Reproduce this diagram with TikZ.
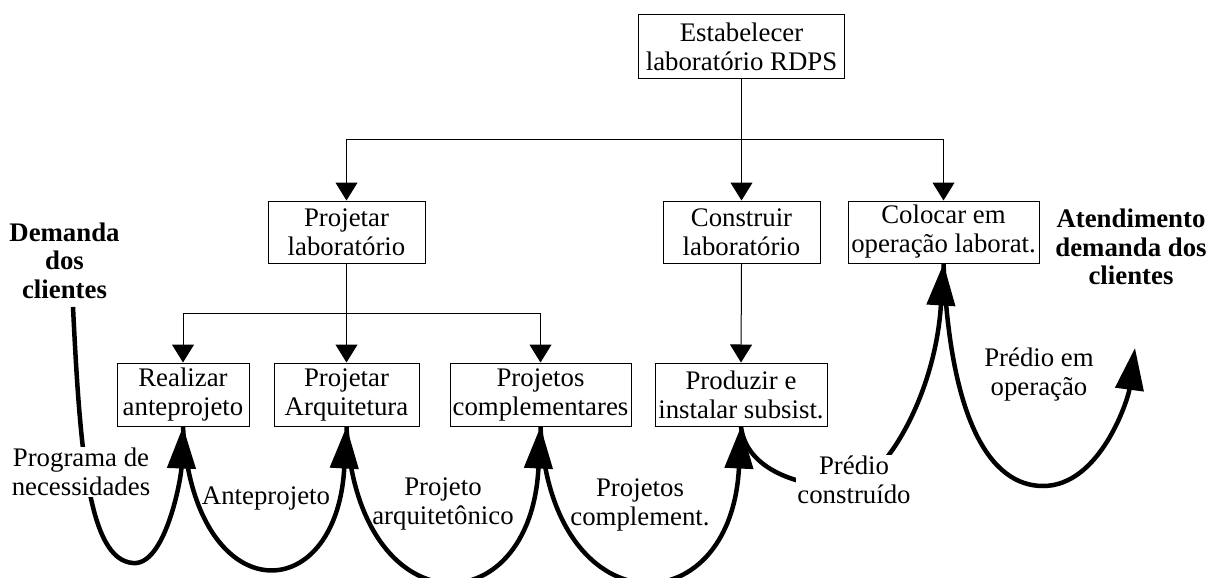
\documentclass[tikz,border=0pt]{standalone}
\usepackage{fontspec}
\setmainfont{Liberation Serif}
\usetikzlibrary{arrows.meta}
\tikzset{
  box/.style={draw, line width=1pt, align=center, inner sep=0pt, font=\fontsize{26.8}{29}\selectfont},
  conn/.style={line width=1pt, -{Triangle[length=18pt,width=22pt]}},
  plainline/.style={line width=1pt},
  flow/.style={line width=4.5pt, line join=round, -{Triangle[length=42pt,width=28pt]}},
  lbl/.style={align=center, inner sep=1pt, font=\fontsize{26.8}{29}\selectfont},
  blbl/.style={align=center, inner sep=1pt, font=\fontsize{26.8}{28.5}\selectfont\bfseries},
}
\begin{document}
\begin{tikzpicture}[x=1pt,y=-1pt]
\useasboundingbox (0,0) rectangle (1207,578);
\clip (0,0) rectangle (1207,578);

% boxes
\node[box, minimum width=206pt, minimum height=63pt] (est) at (741.5,46.5) {Estabelecer\\laboratório RDPS};
\node[box, minimum width=157pt, minimum height=62pt] (projlab) at (346.5,232) {Projetar\\laboratório};
\node[box, minimum width=157pt, minimum height=62pt] (constr) at (741.5,232) {Construir\\laboratório};
\node[box, minimum width=191pt, minimum height=62pt] (coloc) at (943.5,232) {Colocar em\\operação laborat.};
\node[box, minimum width=132pt, minimum height=63pt] (realiz) at (183,394.5) {Realizar\\anteprojeto};
\node[box, minimum width=145pt, minimum height=63pt] (projarq) at (346.5,394.5) {Projetar\\Arquitetura};
\node[box, minimum width=181pt, minimum height=63pt] (projcomp) at (540.5,394.5) {Projetos\\complementares};
\node[box, minimum width=172pt, minimum height=63pt] (produz) at (741,394.5) {Produzir e\\instalar subsist.};

% tree connectors
\coordinate (bus1) at (741.5,139);
\coordinate (bus2) at (346.5,313);
\draw[conn] (est.south) -- (constr.north);
\draw[conn] (bus1) -| (projlab.north);
\draw[conn] (bus1) -| (coloc.north);
\draw[conn] (projlab.south) -- (projarq.north);
\draw[conn] (bus2) -| (realiz.north);
\draw[conn] (bus2) -| (projcomp.north);
\draw[conn] (constr.south) -- (produz.north);

% flow curves
\coordinate (dstart) at (73,307);
\coordinate (fim) at (1135,348);
\draw[flow] (dstart) .. controls (80,450) and (88,560) .. (133,563)
  .. controls (165,566) and (181,480) .. (realiz.south);
\draw[flow] (realiz.south) .. controls (193,611) and (336.5,611) .. (projarq.south);
\draw[flow] (projarq.south) .. controls (356.5,628) and (530.5,628) .. (projcomp.south);
\draw[flow] (projcomp.south) .. controls (550.5,628) and (731,628) .. (produz.south);
\draw[flow] (produz.south) .. controls (746,470) and (800,487) .. (845,487)
  .. controls (880,487) and (935,400) .. (coloc.south);
\draw[flow] (coloc.south) .. controls (950,420) and (990,486) .. (1043,486)
  .. controls (1100,486) and (1128,400) .. (fim);

% labels
\node[blbl] (dem) at (64.5,260.5) {Demanda\\dos\\clientes};
\node[blbl] (aten) at (1131,247) {Atendimento\\demanda dos\\clientes};
\node[lbl, fill=white] (prog) at (81,472) {Programa de\\necessidades};
\node[lbl] (ante) at (266,498) {Anteprojeto};
\node[lbl] (parq) at (443,504) {Projeto\\arquitetônico};
\node[lbl] (pcomp) at (640,505) {Projetos\\complement.};
\node[lbl, fill=white] (pcons) at (854,480) {Prédio\\construído};
\node[lbl] (poper) at (1039,375) {Prédio em\\operação};
\end{tikzpicture}
\end{document}
